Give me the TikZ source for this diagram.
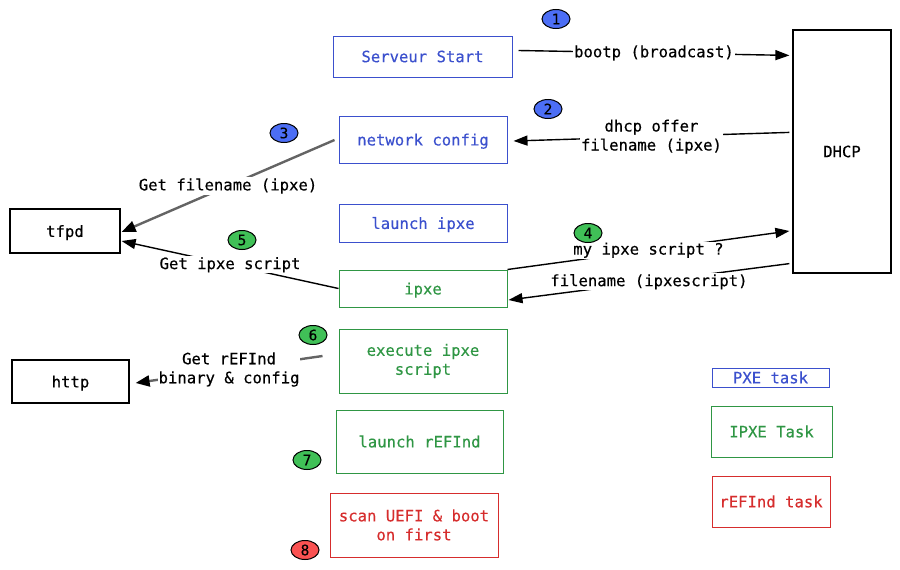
\documentclass[tikz,border=0pt]{standalone}
\usepackage{fontspec}
\newfontfamily\mono[FakeBold=0.35]{DejaVu Sans Mono}
\usetikzlibrary{arrows.meta,shapes.geometric,calc}
\definecolor{pxe}{RGB}{59,80,205}
\definecolor{ipx}{RGB}{47,150,68}
\definecolor{rfd}{RGB}{214,45,45}
\definecolor{bfill}{RGB}{76,110,245}
\definecolor{gfill}{RGB}{64,192,87}
\definecolor{rfill}{RGB}{250,82,82}
\definecolor{gline}{RGB}{100,100,100}
\tikzset{
  box/.style={draw, line width=1pt, inner sep=0pt, align=center},
  pxebox/.style={box, draw=pxe, text=pxe},
  ipxbox/.style={box, draw=ipx, text=ipx},
  rfdbox/.style={box, draw=rfd, text=rfd},
  blkbox/.style={box, draw=black, line width=1.2pt},
  badge/.style={ellipse, draw=black, line width=1pt, minimum width=28pt, minimum height=19pt, inner sep=0pt, font=\mono\fontsize{14.5}{16}\selectfont},
  conn/.style={line width=1.4pt, -{Triangle[length=14pt,width=10pt]}},
  gconn/.style={line width=2.4pt, draw=gline, -{Triangle[length=14pt,width=11pt,color=black]}},
  lbl/.style={fill=white, inner sep=1pt, align=center, text=black}
}
\begin{document}
\begin{tikzpicture}[x=1pt,y=-1pt, font=\mono\fontsize{15.6}{19}\selectfont]
\useasboundingbox (0,0) rectangle (900,570);

% main steps
\node[pxebox, minimum width=179pt, minimum height=41pt] (serveur) at (422.5,56.5) {Serveur Start};
\node[pxebox, minimum width=168pt, minimum height=47pt, text depth=0pt] (netcfg) at (423,139.5) {network config};
\node[pxebox, minimum width=168pt, minimum height=38pt, text depth=0pt] (launchipxe) at (423,223) {launch ipxe};
\node[ipxbox, minimum width=168pt, minimum height=37pt, text depth=0pt] (ipxe) at (423,288.5) {ipxe};
\node[ipxbox, minimum width=168pt, minimum height=64pt] (execipxe) at (423,361) {execute ipxe\\script};
\node[ipxbox, minimum width=167pt, minimum height=63pt] (launchrefind) at (419.5,441.5) {launch rEFInd};
\node[rfdbox, minimum width=168pt, minimum height=64pt] (scan) at (414,525) {scan UEFI \& boot\\on first};

% servers
\node[blkbox, minimum width=98pt, minimum height=243pt] (dhcp) at (842,151.5) {DHCP};
\node[blkbox, minimum width=110pt, minimum height=44pt, text depth=0pt] (tfpd) at (65,231) {tfpd};
\node[blkbox, minimum width=117pt, minimum height=43pt, text depth=0pt] (http) at (70.5,381.5) {http};

% legend
\node[pxebox, minimum width=117pt, minimum height=19pt] (legpxe) at (770.5,377.5) {PXE task};
\node[ipxbox, minimum width=121pt, minimum height=51pt] (legipxe) at (771.5,431.5) {IPXE Task};
\node[rfdbox, minimum width=118pt, minimum height=51pt] (legrefind) at (771,501.5) {rEFInd task};

% connectors
\draw[conn] ($(serveur.east)+(6,-6)$) -- ($(dhcp.north west)+(-3,26)$)
  node[lbl, midway] {bootp (broadcast)};
\draw[conn] ($(dhcp.north west)+(-3,103)$) -- ($(netcfg.east)+(6,1.5)$)
  node[lbl, midway] {dhcp offer\\filename (ipxe)};
\draw[gconn] ($(netcfg.west)+(-4,0.5)$) -- ($(tfpd.east)+(1,1)$)
  node[lbl, midway] {Get filename (ipxe)};
\draw[conn] ($(ipxe.north east)+(0,0)$) -- ($(dhcp.west)+(-3,79.5)$)
  node[lbl, pos=0.5] {my ipxe script ?};
\draw[conn] ($(dhcp.south west)+(-3,-10)$) -- ($(ipxe.east)+(1,11.5)$)
  node[lbl, midway] {filename (ipxescript)};
\draw[conn] (ipxe.west) -- ($(tfpd.east)+(1,10)$)
  node[lbl, midway] {Get ipxe script};
\draw[gconn] ($(execipxe.west)+(-16,-5)$) -- ($(http.east)+(6,1.5)$)
  node[lbl, midway] {Get rEFInd\\binary \& config};

% badges
\node[badge, fill=bfill] (b1) at (556,19) {1};
\node[badge, fill=bfill] (b2) at (548,109) {2};
\node[badge, fill=bfill] (b3) at (284,133) {3};
\node[badge, fill=gfill] (b4) at (588,233) {4};
\node[badge, fill=gfill] (b5) at (242,240) {5};
\node[badge, fill=gfill] (b6) at (313,335) {6};
\node[badge, fill=gfill] (b7) at (307,460) {7};
\node[badge, fill=rfill] (b8) at (305,550) {8};

\end{tikzpicture}
\end{document}
